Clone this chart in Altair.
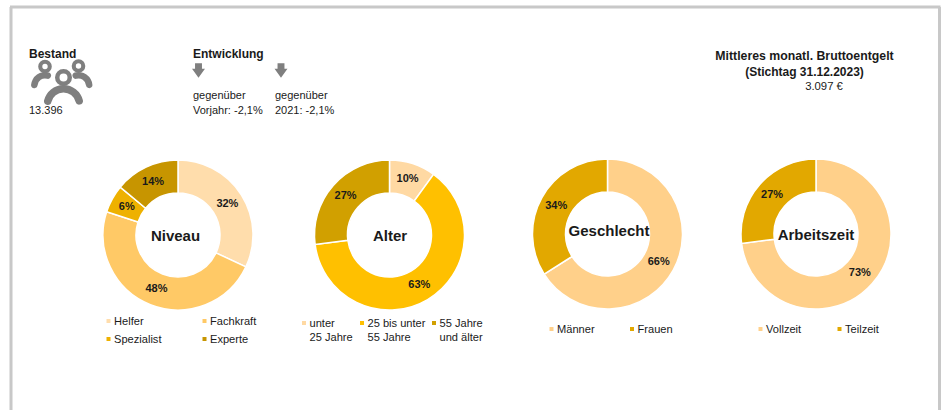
import altair as alt
import pandas as pd

# Donut contents
niveau_labels = ["Helfer", "Fachkraft", "Spezialist", "Experte"]
niveau_values = [32, 48, 6, 14]
niveau_colors = ["#FFDDAC", "#FFC966", "#EEB100", "#C79500"]

alter_labels = ["unter\n25 Jahre", "25 bis unter\n55 Jahre", "55 Jahre\nund älter"]
alter_values = [10, 63, 27]
alter_colors = ["#FFD9A3", "#FFC000", "#D1A000"]

geschlecht_labels = ["Männer", "Frauen"]
geschlecht_values = [66, 34]
geschlecht_colors = ["#FFD08A", "#E2A800"]

arbeitszeit_labels = ["Vollzeit", "Teilzeit"]
arbeitszeit_values = [73, 27]
arbeitszeit_colors = ["#FFD08A", "#E2A800"]

FONT = "Liberation Sans"
INK = "#1a1a1a"
GREY = "#7f7f7f"
FRAME = "#c8c8c8"
OUTER, INNER = 75, 42

# name, labels, values, colours, centre, title position, legend entries (x, y per label)
donuts = [
    ("Niveau", niveau_labels, niveau_values, niveau_colors, (178, 235), (175.5, 236),
     [(108.5, 321), (204.5, 321), (108.5, 339), (204.5, 339)]),
    ("Alter", alter_labels, alter_values, alter_colors, (389.5, 235), (390, 236),
     [(304, 323), (362, 323), (434, 323)]),
    ("Geschlecht", geschlecht_labels, geschlecht_values, geschlecht_colors, (607.5, 234), (609, 231),
     [(551.5, 329), (632, 329)]),
    ("Arbeitszeit", arbeitszeit_labels, arbeitszeit_values, arbeitszeit_colors, (816, 234), (816, 235),
     [(760.5, 329), (839.5, 329)]),
]

anchor = alt.Chart(pd.DataFrame({"a": [0]}))
theta_scale = alt.Scale(domain=[0, 100], range=[0, 6.283185307])


def text(content, x, y, size=11, bold=False, align="left", line_height=None):
    return anchor.mark_text(
        text=content, font=FONT, fontSize=size, fontWeight="bold" if bold else "normal",
        color=INK, align=align, baseline="middle", lineHeight=line_height or size + 2,
    ).encode(x=alt.value(x), y=alt.value(y))


def rule(x1, y1, x2, y2):
    return anchor.mark_rule(color=FRAME, strokeWidth=3).encode(
        x=alt.value(x1), y=alt.value(y1), x2=alt.value(x2), y2=alt.value(y2)
    )


def arc(cx, cy, outer, inner, start, end, corner=0):
    return anchor.mark_arc(
        color=GREY, outerRadius=outer, innerRadius=inner, theta=start, theta2=end, cornerRadius=corner
    ).encode(x=alt.value(cx), y=alt.value(cy))


layers = [rule(11, 7, 11, 410), rule(10, 7, 940.5, 7), rule(939.5, 7, 939.5, 410)]

# Percentage rings, labels and their small square legends
for name, labels, values, colors, (cx, cy), (tx, ty), legend_pos in donuts:
    frame = pd.DataFrame({"label": labels, "value": values, "color": colors, "i": range(len(labels))})
    ring = alt.Chart(frame).mark_arc(
        outerRadius=OUTER, innerRadius=INNER, stroke="white", strokeWidth=1.5
    ).encode(
        x=alt.value(cx), y=alt.value(cy),
        theta=alt.Theta("value:Q", stack=True, scale=theta_scale),
        color=alt.Color("color:N", scale=None),
        order=alt.Order("i:Q"),
    )
    layers.append(ring)

    running = 0
    for label, value, color, (lx, ly) in zip(labels, values, colors, legend_pos):
        mid = running + value / 2
        running += value
        row = pd.DataFrame({"mid": [mid], "txt": [f"{value}%"]})
        layers.append(
            alt.Chart(row).mark_text(
                radius=(OUTER + INNER) / 2, font=FONT, fontSize=11, fontWeight="bold", color=INK,
            ).encode(
                x=alt.value(cx), y=alt.value(cy),
                theta=alt.Theta("mid:Q", scale=theta_scale),
                text="txt:N",
            )
        )
        layers.append(
            anchor.mark_square(color=color, size=16, opacity=1).encode(
                x=alt.value(lx), y=alt.value(ly)
            )
        )
        layers.append(text(label.split("\n"), lx + 5.5, ly + 1, 11.1, line_height=13.5))

    layers.append(text(name, tx, ty, 15, bold=True, align="center"))

# Header block
layers += [
    text("Bestand", 29, 54, 12, bold=True),
    text("13.396", 29, 111, 11),
    text("Entwicklung", 193, 54, 12, bold=True),
    text(["gegenüber", "Vorjahr: -2,1%"], 193, 96, 11, line_height=15),
    text(["gegenüber", "2021: -2,1%"], 275, 96, 11, line_height=15),
    text("Mittleres monatl. Bruttoentgelt", 804.5, 56, 12.3, bold=True, align="center"),
    text("(Stichtag 31.12.2023)", 804.5, 72, 12, bold=True, align="center"),
    text("3.097 €", 824, 87, 11.3, align="center"),
]

# People pictogram built from rings and arcs
layers += [
    arc(45, 86, 14, 7.5, 4.5, 6.85, 3),
    arc(78.5, 86, 14, 7.5, 5.72, 8.05, 3),
    arc(63.5, 105, 20, 12.5, 4.72, 7.83, 3.5),
    arc(45, 66.5, 6.8, 2.7, 0, 6.2832),
    arc(78.5, 66, 6.8, 2.7, 0, 6.2832),
    arc(63.5, 77.5, 8.5, 4, 0, 6.2832),
]

# Downward arrows
arrow_path = "M-0.48,-1 L0.48,-1 L0.48,-0.25 L0.9,-0.25 L0,1 L-0.9,-0.25 L-0.48,-0.25 Z"
for ax in [198.5, 281]:
    layers.append(
        anchor.mark_point(shape=arrow_path, filled=True, color=GREY, size=208, opacity=1).encode(
            x=alt.value(ax), y=alt.value(70.5)
        )
    )

chart = alt.layer(*layers).properties(
    width=945, height=410, padding=0, autosize=alt.AutoSizeParams(type="none"), background="white"
).configure_view(stroke=None)

chart.save("out.html", embed_options={"renderer": "svg", "actions": False})
